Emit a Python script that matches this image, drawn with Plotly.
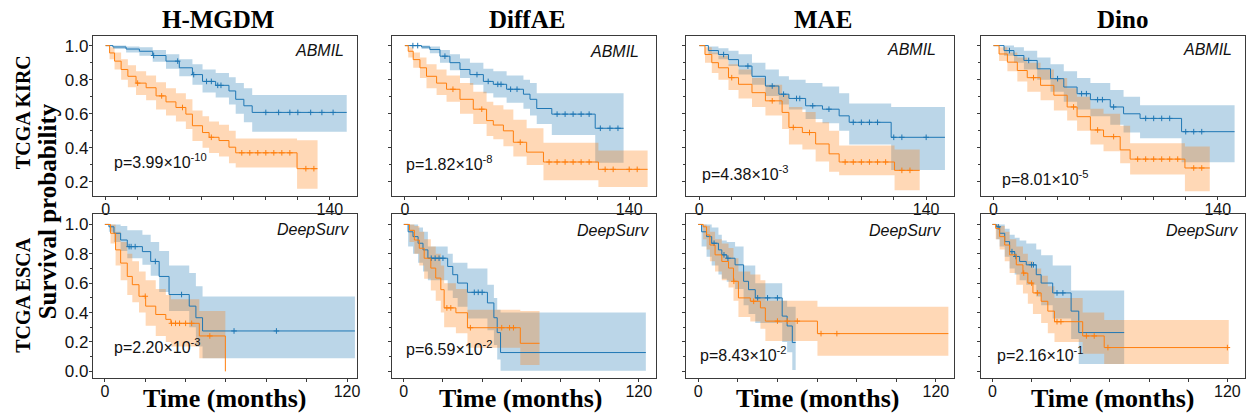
import plotly.graph_objects as go

W, H = 1251, 418

COLUMNS = ["H-MGDM", "DiffAE", "MAE", "Dino"]
ROWS = ["TCGA KIRC", "TCGA ESCA"]
MODELS = ["ABMIL", "DeepSurv"]
P_MANTISSA = [["3.99", "1.82", "4.38", "8.01"], ["2.20", "6.59", "8.43", "2.16"]]
P_EXPONENT = [["-10", "-8", "-3", "-5"], ["-3", "-2", "-2", "-1"]]
X_TICKS = [[0, 20, 40, 60, 80, 100, 120, 140], [0, 20, 40, 60, 80, 100, 120]]
Y_TICKS = [[0.2, 0.4, 0.6, 0.8, 1.0], [0.0, 0.2, 0.4, 0.6, 0.8, 1.0]]
X_LABEL = "Time (months)"
Y_LABEL = "Survival probability"

# ---------------- TCGA KIRC / H-MGDM ----------------
KIRC_HMGDM_LOW_T = [0, 4.6, 12.8, 21.1, 29.4, 37.7, 46.0, 54.2, 60.5, 68.7, 77.0, 81.2, 86.3, 91.5, 150.5]
KIRC_HMGDM_LOW_S = [1.0, 0.992, 0.98, 0.967, 0.942, 0.909, 0.87, 0.83, 0.79, 0.767, 0.734, 0.685, 0.647, 0.608, 0.608]
KIRC_HMGDM_LOW_U = [1.0, 1.0, 0.995, 0.99, 0.975, 0.95, 0.92, 0.89, 0.86, 0.84, 0.815, 0.78, 0.75, 0.71, 0.71]
KIRC_HMGDM_LOW_L = [1.0, 0.98, 0.96, 0.94, 0.905, 0.865, 0.82, 0.77, 0.725, 0.695, 0.655, 0.6, 0.55, 0.495, 0.495]
KIRC_HMGDM_LOW_C = [30, 45, 55, 63, 66, 70, 72, 100, 108, 115, 120, 128, 135, 142]
KIRC_HMGDM_HIGH_T = [0, 2.5, 5.6, 9.7, 13.9, 19.0, 25.3, 31.5, 37.7, 43.9, 50.1, 54.2, 60.5, 64.6, 70.8, 77.0, 81.2, 119.5, 132.3]
KIRC_HMGDM_HIGH_S = [1.0, 0.957, 0.909, 0.86, 0.82, 0.78, 0.753, 0.705, 0.67, 0.637, 0.598, 0.53, 0.49, 0.462, 0.443, 0.404, 0.371, 0.278, 0.278]
KIRC_HMGDM_HIGH_U = [1.0, 0.99, 0.96, 0.92, 0.885, 0.85, 0.825, 0.785, 0.75, 0.72, 0.685, 0.62, 0.585, 0.555, 0.535, 0.5, 0.455, 0.445, 0.445]
KIRC_HMGDM_HIGH_L = [1.0, 0.92, 0.86, 0.8, 0.755, 0.71, 0.68, 0.625, 0.59, 0.555, 0.51, 0.44, 0.4, 0.37, 0.35, 0.31, 0.285, 0.16, 0.16]
KIRC_HMGDM_HIGH_C = [20, 35, 48, 66, 85, 90, 95, 100, 105, 110, 115, 125, 130]

# ---------------- TCGA KIRC / DiffAE ----------------
KIRC_DIFFAE_LOW_T = [0, 10.4, 15.6, 21.9, 28.1, 34.4, 40.6, 49.0, 55.2, 63.5, 74.0, 78.1, 82.3, 91.7, 118.8, 136.5]
KIRC_DIFFAE_LOW_S = [1.0, 0.992, 0.977, 0.938, 0.9, 0.86, 0.83, 0.79, 0.773, 0.744, 0.715, 0.685, 0.631, 0.598, 0.515, 0.515]
KIRC_DIFFAE_LOW_U = [1.0, 1.0, 0.995, 0.975, 0.95, 0.925, 0.9, 0.865, 0.85, 0.825, 0.8, 0.78, 0.72, 0.72, 0.72, 0.72]
KIRC_DIFFAE_LOW_L = [1.0, 0.98, 0.955, 0.9, 0.855, 0.81, 0.77, 0.72, 0.695, 0.665, 0.63, 0.59, 0.54, 0.476, 0.313, 0.313]
KIRC_DIFFAE_LOW_C = [5, 8, 25, 45, 52, 58, 60, 66, 70, 95, 100, 105, 110, 115, 122, 128, 133]
KIRC_DIFFAE_HIGH_T = [0, 2.1, 5.2, 9.4, 13.5, 19.8, 26.0, 34.4, 42.7, 51.0, 55.2, 61.5, 67.7, 76.0, 86.5, 120.8, 151.5]
KIRC_DIFFAE_HIGH_S = [1.0, 0.967, 0.918, 0.87, 0.82, 0.78, 0.744, 0.685, 0.627, 0.56, 0.534, 0.5, 0.433, 0.375, 0.317, 0.274, 0.274]
KIRC_DIFFAE_HIGH_U = [1.0, 0.99, 0.96, 0.93, 0.89, 0.86, 0.825, 0.78, 0.73, 0.67, 0.65, 0.625, 0.565, 0.515, 0.43, 0.385, 0.385]
KIRC_DIFFAE_HIGH_L = [1.0, 0.93, 0.87, 0.81, 0.75, 0.71, 0.67, 0.6, 0.54, 0.47, 0.45, 0.41, 0.35, 0.3, 0.21, 0.17, 0.17]
KIRC_DIFFAE_HIGH_C = [30, 48, 72, 90, 95, 100, 105, 110, 115, 125, 130, 140, 145]

# ---------------- TCGA KIRC / MAE ----------------
KIRC_MAE_LOW_T = [0, 5.6, 11.8, 18.0, 24.2, 32.5, 40.8, 49.1, 55.3, 65.6, 76.0, 86.3, 92.5, 118.4, 151.6]
KIRC_MAE_LOW_S = [1.0, 0.971, 0.948, 0.918, 0.88, 0.82, 0.763, 0.715, 0.69, 0.647, 0.627, 0.588, 0.55, 0.462, 0.462]
KIRC_MAE_LOW_U = [1.0, 0.995, 0.985, 0.97, 0.95, 0.9, 0.86, 0.82, 0.8, 0.78, 0.76, 0.72, 0.66, 0.64, 0.64]
KIRC_MAE_LOW_L = [1.0, 0.95, 0.92, 0.88, 0.83, 0.77, 0.705, 0.655, 0.625, 0.57, 0.545, 0.5, 0.42, 0.27, 0.27]
KIRC_MAE_LOW_C = [15, 30, 45, 52, 60, 62, 70, 80, 95, 100, 105, 110, 120, 125, 140]
KIRC_MAE_HIGH_T = [0, 3.5, 7.7, 11.8, 18.0, 24.2, 32.5, 40.8, 51.1, 55.3, 63.6, 71.8, 80.1, 86.3, 120.5, 136.0]
KIRC_MAE_HIGH_S = [1.0, 0.948, 0.9, 0.87, 0.812, 0.773, 0.724, 0.676, 0.608, 0.52, 0.49, 0.423, 0.365, 0.317, 0.268, 0.268]
KIRC_MAE_HIGH_U = [1.0, 0.99, 0.96, 0.94, 0.89, 0.86, 0.81, 0.77, 0.71, 0.64, 0.61, 0.55, 0.5, 0.414, 0.39, 0.39]
KIRC_MAE_HIGH_L = [1.0, 0.9, 0.84, 0.8, 0.74, 0.69, 0.64, 0.59, 0.51, 0.42, 0.39, 0.32, 0.26, 0.239, 0.151, 0.151]
KIRC_MAE_HIGH_C = [20, 45, 58, 68, 90, 95, 100, 105, 110, 115, 125, 130]

# ---------------- TCGA KIRC / Dino ----------------
KIRC_DINO_LOW_T = [0, 6.6, 12.8, 19.0, 27.3, 35.6, 43.9, 52.2, 60.5, 72.9, 81.2, 91.5, 117.4, 150.5]
KIRC_DINO_LOW_S = [1.0, 0.971, 0.942, 0.913, 0.864, 0.806, 0.757, 0.718, 0.683, 0.64, 0.6, 0.573, 0.495, 0.495]
KIRC_DINO_LOW_U = [1.0, 1.0, 0.99, 0.97, 0.93, 0.89, 0.85, 0.81, 0.78, 0.74, 0.7, 0.65, 0.65, 0.65]
KIRC_DINO_LOW_L = [1.0, 0.94, 0.9, 0.86, 0.8, 0.73, 0.67, 0.625, 0.585, 0.535, 0.49, 0.456, 0.315, 0.315]
KIRC_DINO_LOW_C = [10, 22, 40, 55, 58, 65, 68, 75, 95, 100, 105, 110, 120, 125, 130]
KIRC_DINO_HIGH_T = [0, 3.5, 8.7, 14.9, 21.1, 29.4, 37.7, 46.0, 52.2, 60.5, 68.7, 79.1, 85.3, 119.5, 135.0]
KIRC_DINO_HIGH_S = [1.0, 0.951, 0.903, 0.854, 0.812, 0.767, 0.709, 0.64, 0.583, 0.505, 0.466, 0.388, 0.334, 0.282, 0.282]
KIRC_DINO_HIGH_U = [1.0, 0.99, 0.96, 0.93, 0.9, 0.86, 0.81, 0.75, 0.7, 0.63, 0.6, 0.53, 0.427, 0.408, 0.408]
KIRC_DINO_HIGH_L = [1.0, 0.91, 0.85, 0.79, 0.73, 0.68, 0.62, 0.56, 0.5, 0.42, 0.38, 0.31, 0.243, 0.146, 0.146]
KIRC_DINO_HIGH_C = [25, 50, 65, 75, 90, 95, 100, 105, 110, 115, 125, 130]

# ---------------- TCGA ESCA / H-MGDM ----------------
ESCA_HMGDM_LOW_T = [0, 2.0, 4.5, 7.8, 11.1, 18.6, 22.7, 26.9, 31.8, 41.8, 45.1, 48.4, 123.9]
ESCA_HMGDM_LOW_S = [1.0, 0.984, 0.94, 0.894, 0.849, 0.815, 0.748, 0.646, 0.523, 0.444, 0.365, 0.275, 0.275]
ESCA_HMGDM_LOW_U = [1.0, 1.0, 1.0, 0.99, 0.96, 0.93, 0.88, 0.82, 0.72, 0.67, 0.58, 0.51, 0.51]
ESCA_HMGDM_LOW_L = [1.0, 0.95, 0.88, 0.82, 0.77, 0.725, 0.65, 0.54, 0.41, 0.3, 0.17, 0.09, 0.09]
ESCA_HMGDM_LOW_C = [12, 13, 15, 25, 38, 64, 85]
ESCA_HMGDM_HIGH_T = [0, 2.8, 5.3, 7.8, 11.1, 13.6, 16.9, 20.2, 25.2, 30.2, 32.7, 46.8, 59.7]
ESCA_HMGDM_HIGH_S = [1.0, 0.94, 0.827, 0.737, 0.646, 0.59, 0.511, 0.444, 0.387, 0.354, 0.327, 0.241, 0.0]
ESCA_HMGDM_HIGH_U = [1.0, 1.0, 0.95, 0.88, 0.8, 0.75, 0.68, 0.62, 0.56, 0.52, 0.49, 0.41, 0.0]
ESCA_HMGDM_HIGH_L = [1.0, 0.87, 0.72, 0.62, 0.52, 0.47, 0.4, 0.31, 0.24, 0.2, 0.17, 0.09, 0.0]
ESCA_HMGDM_HIGH_C = [20, 33, 35, 37, 40, 43, 52]

# ---------------- TCGA ESCA / DiffAE ----------------
ESCA_DIFFAE_LOW_T = [0, 2.2, 4.7, 7.3, 9.8, 12.3, 22.4, 25.0, 27.5, 32.5, 42.7, 46.0, 47.7, 49.4, 123.6]
ESCA_DIFFAE_LOW_S = [1.0, 0.95, 0.917, 0.872, 0.827, 0.77, 0.714, 0.658, 0.601, 0.538, 0.466, 0.365, 0.264, 0.128, 0.128]
ESCA_DIFFAE_LOW_U = [1.0, 1.0, 1.0, 0.98, 0.95, 0.85, 0.8, 0.74, 0.74, 0.7, 0.59, 0.5, 0.42, 0.4, 0.4]
ESCA_DIFFAE_LOW_L = [1.0, 0.85, 0.8, 0.74, 0.68, 0.62, 0.55, 0.5, 0.44, 0.36, 0.28, 0.18, 0.08, 0.005, 0.005]
ESCA_DIFFAE_LOW_C = [14, 16, 18, 20, 36, 38, 40]
ESCA_DIFFAE_HIGH_T = [0, 2.9, 5.4, 7.9, 10.4, 13.8, 16.3, 18.9, 20.6, 26.6, 32.5, 59.5, 69.3]
ESCA_DIFFAE_HIGH_S = [1.0, 0.96, 0.894, 0.838, 0.77, 0.703, 0.635, 0.556, 0.432, 0.399, 0.297, 0.191, 0.191]
ESCA_DIFFAE_HIGH_U = [1.0, 1.0, 0.99, 0.95, 0.9, 0.85, 0.8, 0.72, 0.6, 0.56, 0.42, 0.41, 0.41]
ESCA_DIFFAE_HIGH_L = [1.0, 0.88, 0.8, 0.72, 0.63, 0.55, 0.48, 0.4, 0.3, 0.26, 0.16, 0.043, 0.043]
ESCA_DIFFAE_HIGH_C = [22, 24, 34, 50, 54, 56]

# ---------------- TCGA ESCA / MAE ----------------
ESCA_MAE_LOW_T = [0, 1.7, 4.2, 6.8, 10.2, 11.9, 14.4, 18.6, 22.9, 25.4, 28.8, 42.4, 44.9, 47.5, 49.2]
ESCA_MAE_LOW_S = [1.0, 0.95, 0.917, 0.872, 0.827, 0.793, 0.77, 0.725, 0.613, 0.556, 0.5, 0.376, 0.309, 0.196, 0.196]
ESCA_MAE_LOW_U = [1.0, 1.0, 1.0, 0.98, 0.93, 0.89, 0.88, 0.85, 0.72, 0.72, 0.6, 0.48, 0.44, 0.44, 0.44]
ESCA_MAE_LOW_L = [1.0, 0.85, 0.78, 0.72, 0.66, 0.63, 0.61, 0.56, 0.45, 0.39, 0.33, 0.2, 0.13, 0.01, 0.01]
ESCA_MAE_LOW_C = [8, 13, 15, 30, 35, 40]
ESCA_MAE_HIGH_T = [0, 2.5, 4.2, 5.9, 8.5, 11.9, 15.3, 17.8, 20.3, 26.3, 31.4, 33.9, 60.2, 126.3]
ESCA_MAE_HIGH_S = [1.0, 0.984, 0.928, 0.86, 0.793, 0.748, 0.703, 0.613, 0.5, 0.477, 0.432, 0.342, 0.257, 0.257]
ESCA_MAE_HIGH_U = [1.0, 1.0, 0.99, 0.95, 0.9, 0.87, 0.84, 0.77, 0.68, 0.66, 0.62, 0.48, 0.44, 0.44]
ESCA_MAE_HIGH_L = [1.0, 0.9, 0.83, 0.75, 0.68, 0.62, 0.57, 0.48, 0.37, 0.34, 0.29, 0.207, 0.106, 0.106]
ESCA_MAE_HIGH_C = [18, 28, 40, 45, 50, 62, 70]

# ---------------- TCGA ESCA / Dino ----------------
ESCA_DINO_LOW_T = [0, 2.0, 3.7, 6.3, 8.8, 11.4, 13.9, 17.3, 22.4, 24.9, 30.8, 40.2, 44.1, 67.3]
ESCA_DINO_LOW_S = [1.0, 0.984, 0.94, 0.883, 0.815, 0.782, 0.748, 0.725, 0.658, 0.601, 0.534, 0.41, 0.264, 0.264]
ESCA_DINO_LOW_U = [1.0, 1.0, 1.0, 0.97, 0.93, 0.91, 0.89, 0.87, 0.83, 0.79, 0.72, 0.55, 0.55, 0.55]
ESCA_DINO_LOW_L = [1.0, 0.9, 0.85, 0.78, 0.7, 0.66, 0.62, 0.59, 0.51, 0.45, 0.36, 0.22, 0.05, 0.05]
ESCA_DINO_LOW_C = [3, 10, 12, 20, 21, 33, 36]
ESCA_DINO_HIGH_T = [0, 1.7, 3.7, 6.3, 8.8, 12.2, 15.6, 18.1, 20.7, 24.9, 28.3, 31.7, 46.1, 57.1, 120.7]
ESCA_DINO_HIGH_S = [1.0, 0.973, 0.917, 0.86, 0.793, 0.725, 0.669, 0.601, 0.534, 0.477, 0.41, 0.338, 0.241, 0.162, 0.162]
ESCA_DINO_HIGH_U = [1.0, 1.0, 0.99, 0.95, 0.9, 0.85, 0.8, 0.75, 0.7, 0.65, 0.58, 0.5, 0.4, 0.35, 0.35]
ESCA_DINO_HIGH_L = [1.0, 0.9, 0.83, 0.75, 0.67, 0.59, 0.53, 0.46, 0.39, 0.33, 0.26, 0.2, 0.12, 0.05, 0.05]
ESCA_DINO_HIGH_C = [16, 20, 23, 33, 35, 48, 52, 59, 120]

# group curves per panel [row][col] -> (low-risk, high-risk), each (T, S, U, L, censor)
PANELS = [
    [
        ((KIRC_HMGDM_LOW_T, KIRC_HMGDM_LOW_S, KIRC_HMGDM_LOW_U, KIRC_HMGDM_LOW_L, KIRC_HMGDM_LOW_C),
         (KIRC_HMGDM_HIGH_T, KIRC_HMGDM_HIGH_S, KIRC_HMGDM_HIGH_U, KIRC_HMGDM_HIGH_L, KIRC_HMGDM_HIGH_C)),
        ((KIRC_DIFFAE_LOW_T, KIRC_DIFFAE_LOW_S, KIRC_DIFFAE_LOW_U, KIRC_DIFFAE_LOW_L, KIRC_DIFFAE_LOW_C),
         (KIRC_DIFFAE_HIGH_T, KIRC_DIFFAE_HIGH_S, KIRC_DIFFAE_HIGH_U, KIRC_DIFFAE_HIGH_L, KIRC_DIFFAE_HIGH_C)),
        ((KIRC_MAE_LOW_T, KIRC_MAE_LOW_S, KIRC_MAE_LOW_U, KIRC_MAE_LOW_L, KIRC_MAE_LOW_C),
         (KIRC_MAE_HIGH_T, KIRC_MAE_HIGH_S, KIRC_MAE_HIGH_U, KIRC_MAE_HIGH_L, KIRC_MAE_HIGH_C)),
        ((KIRC_DINO_LOW_T, KIRC_DINO_LOW_S, KIRC_DINO_LOW_U, KIRC_DINO_LOW_L, KIRC_DINO_LOW_C),
         (KIRC_DINO_HIGH_T, KIRC_DINO_HIGH_S, KIRC_DINO_HIGH_U, KIRC_DINO_HIGH_L, KIRC_DINO_HIGH_C)),
    ],
    [
        ((ESCA_HMGDM_LOW_T, ESCA_HMGDM_LOW_S, ESCA_HMGDM_LOW_U, ESCA_HMGDM_LOW_L, ESCA_HMGDM_LOW_C),
         (ESCA_HMGDM_HIGH_T, ESCA_HMGDM_HIGH_S, ESCA_HMGDM_HIGH_U, ESCA_HMGDM_HIGH_L, ESCA_HMGDM_HIGH_C)),
        ((ESCA_DIFFAE_LOW_T, ESCA_DIFFAE_LOW_S, ESCA_DIFFAE_LOW_U, ESCA_DIFFAE_LOW_L, ESCA_DIFFAE_LOW_C),
         (ESCA_DIFFAE_HIGH_T, ESCA_DIFFAE_HIGH_S, ESCA_DIFFAE_HIGH_U, ESCA_DIFFAE_HIGH_L, ESCA_DIFFAE_HIGH_C)),
        ((ESCA_MAE_LOW_T, ESCA_MAE_LOW_S, ESCA_MAE_LOW_U, ESCA_MAE_LOW_L, ESCA_MAE_LOW_C),
         (ESCA_MAE_HIGH_T, ESCA_MAE_HIGH_S, ESCA_MAE_HIGH_U, ESCA_MAE_HIGH_L, ESCA_MAE_HIGH_C)),
        ((ESCA_DINO_LOW_T, ESCA_DINO_LOW_S, ESCA_DINO_LOW_U, ESCA_DINO_LOW_L, ESCA_DINO_LOW_C),
         (ESCA_DINO_HIGH_T, ESCA_DINO_HIGH_S, ESCA_DINO_HIGH_U, ESCA_DINO_HIGH_L, ESCA_DINO_HIGH_C)),
    ],
]

# ---------------- styling / layout (pixels) ----------------
LINE_COLORS = ["#1f77b4", "#ff7f0e"]
BAND_COLORS = ["rgba(31,119,180,0.3)", "rgba(255,127,14,0.3)"]
FRAME = "#3a3a3a"
SANS = "Liberation Sans, Arial, sans-serif"
SERIF = "Liberation Serif, Times New Roman, serif"

COL_PX = [(93, 358), (393, 658), (688, 956), (983, 1248)]
ROW_PX = [(36, 197), (216, 381)]
X_RANGES = [[(-8, 157)] * 4, [(-6, 125), (-6, 129), (-6, 129), (-6, 129)]]
Y_RANGES = [(0.12, 1.058), (-0.047, 1.068)]

TITLE_POS = [(219, 20), (528, 20), (825, 20), (1125, 20)]
XLABEL_POS = [(225, 401), (522, 401), (819, 401), (1115, 401)]
MODEL_POS = [[(347, 51), (643, 52), (940, 50), (1237, 50)],
             [(352, 231), (653, 232), (945, 232), (1243, 232)]]
P_POS = [[(112, 162), (405, 164), (702, 174), (1002, 179)],
         [(112, 349), (405, 351), (700, 357), (997, 357)]]
ROW_LABEL_POS = [(23, 113), (23, 297)]
YLABEL_POS = (48, 213)


def px_x(p):
    return p / W


def px_y(p):
    return 1 - p / H


def step_value(T, S, c):
    idx = 0
    for i, t in enumerate(T):
        if t <= c:
            idx = i
    return S[idx]


fig = go.Figure()
layout_axes = {}
annotations = []

for r in range(2):
    for c in range(4):
        k = r * 4 + c + 1
        xa = "x" if k == 1 else f"x{k}"
        ya = "y" if k == 1 else f"y{k}"
        for g, (T, S, U, L, C) in enumerate(PANELS[r][c]):
            fig.add_trace(go.Scatter(x=T, y=U, xaxis=xa, yaxis=ya, mode="lines",
                                     line=dict(width=0, shape="hv", color=BAND_COLORS[g]),
                                     hoverinfo="skip", showlegend=False))
            fig.add_trace(go.Scatter(x=T, y=L, xaxis=xa, yaxis=ya, mode="lines",
                                     line=dict(width=0, shape="hv", color=BAND_COLORS[g]),
                                     fill="tonexty", fillcolor=BAND_COLORS[g],
                                     hoverinfo="skip", showlegend=False))
        for g, (T, S, U, L, C) in enumerate(PANELS[r][c]):
            fig.add_trace(go.Scatter(x=T, y=S, xaxis=xa, yaxis=ya, mode="lines",
                                     line=dict(width=1, shape="hv", color=LINE_COLORS[g]),
                                     showlegend=False))
            fig.add_trace(go.Scatter(x=C, y=[step_value(T, S, v) for v in C], xaxis=xa, yaxis=ya,
                                     mode="markers",
                                     marker=dict(symbol="cross-thin-open", size=4, color=LINE_COLORS[g],
                                                 line=dict(width=1, color=LINE_COLORS[g])),
                                     showlegend=False))

        xt = X_TICKS[r]
        xname = "xaxis" if k == 1 else f"xaxis{k}"
        yname = "yaxis" if k == 1 else f"yaxis{k}"
        layout_axes[xname] = dict(
            domain=[px_x(COL_PX[c][0]), px_x(COL_PX[c][1])],
            range=list(X_RANGES[r][c]), anchor=ya,
            tickmode="array", tickvals=[xt[0], xt[-1]], ticktext=[str(xt[0]), str(xt[-1])],
            ticks="outside", ticklen=3, tickcolor=FRAME, tickwidth=1,
            ticklabelstandoff=-4,
            minor=dict(tickmode="array", tickvals=xt, ticks="outside", ticklen=3, tickcolor=FRAME),
            showline=True, mirror=True, linecolor=FRAME, linewidth=1,
            showgrid=False, zeroline=False,
            tickfont=dict(family=SANS, size=16, color="#111"),
        )
        yt = Y_TICKS[r]
        layout_axes[yname] = dict(
            domain=[px_y(ROW_PX[r][1]), px_y(ROW_PX[r][0])],
            range=list(Y_RANGES[r]), anchor=xa,
            tickmode="array", tickvals=yt, ticktext=[f"{v:.1f}" for v in yt],
            showticklabels=(c == 0),
            ticks="outside", ticklen=3, tickcolor=FRAME, tickwidth=1,
            ticklabelstandoff=-3,
            minor=dict(ticks="outside", ticklen=2, dtick=0.1, tickcolor=FRAME),
            showline=True, mirror=True, linecolor=FRAME, linewidth=1,
            showgrid=False, zeroline=False,
            tickfont=dict(family=SANS, size=17, color="#111"),
        )

        mx, my = MODEL_POS[r][c]
        annotations.append(dict(text=f"<i>{MODELS[r]}</i>", x=px_x(mx), y=px_y(my),
                                xref="paper", yref="paper", xanchor="right", yanchor="middle",
                                showarrow=False, font=dict(family=SANS, size=16, color="#111")))
        ppx, ppy = P_POS[r][c]
        annotations.append(dict(text=f"p={P_MANTISSA[r][c]}×10<sup>{P_EXPONENT[r][c]}</sup>",
                                x=px_x(ppx), y=px_y(ppy), xref="paper", yref="paper",
                                xanchor="left", yanchor="middle", showarrow=False,
                                font=dict(family=SANS, size=16, color="#111")))

for c in range(4):
    tx, ty = TITLE_POS[c]
    annotations.append(dict(text=f"<b>{COLUMNS[c]}</b>", x=px_x(tx), y=px_y(ty),
                            xref="paper", yref="paper", xanchor="center", yanchor="middle",
                            showarrow=False, font=dict(family=SERIF, size=25, color="black")))
    lx, ly = XLABEL_POS[c]
    annotations.append(dict(text=f"<b>{X_LABEL}</b>", x=px_x(lx), y=px_y(ly),
                            xref="paper", yref="paper", xanchor="center", yanchor="middle",
                            showarrow=False, font=dict(family=SERIF, size=26, color="black")))

for r in range(2):
    rx, ry = ROW_LABEL_POS[r]
    annotations.append(dict(text=f"<b>{ROWS[r]}</b>", x=px_x(rx), y=px_y(ry),
                            xref="paper", yref="paper", xanchor="center", yanchor="middle",
                            textangle=-90, showarrow=False,
                            font=dict(family=SERIF, size=20, color="black")))

annotations.append(dict(text=f"<b>{Y_LABEL}</b>", x=px_x(YLABEL_POS[0]), y=px_y(YLABEL_POS[1]),
                        xref="paper", yref="paper", xanchor="center", yanchor="middle",
                        textangle=-90, showarrow=False,
                        font=dict(family=SERIF, size=25, color="black")))

fig.update_layout(
    width=W, height=H,
    margin=dict(l=0, r=0, t=0, b=0),
    paper_bgcolor="white", plot_bgcolor="white",
    showlegend=False,
    annotations=annotations,
    **layout_axes,
)

fig.write_html("out.html",
               config={"displayModeBar": False},
               post_script="document.body.style.margin='0';document.body.style.overflow='hidden';")
